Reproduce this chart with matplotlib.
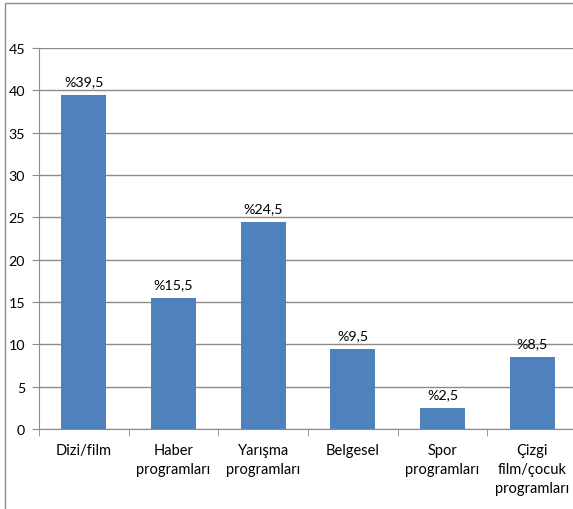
import matplotlib
matplotlib.use("Agg")
import matplotlib.pyplot as plt
from matplotlib.patches import Rectangle
import numpy as np

categories = ["Dizi/film", "Haber\nprogramları", "Yarışma\nprogramları", "Belgesel",
              "Spor\nprogramları", "Çizgi\nfilm/çocuk\nprogramları"]
values = [39.5, 15.5, 24.5, 9.5, 2.5, 8.5]
labels = ["%39,5", "%15,5", "%24,5", "%9,5", "%2,5", "%8,5"]
yticks = [0, 5, 10, 15, 20, 25, 30, 35, 40, 45]

plt.rcParams['font.family'] = ['Lato', 'DejaVu Sans']

W, H = 573, 510
fig = plt.figure(figsize=(W/100, H/100), dpi=100)
fig.patch.set_facecolor('white')
# outer chart border (left and top visible)
fig.add_artist(Rectangle((5/W, -0.1), 1.2, (H-4)/H + 0.1, transform=fig.transFigure,
                         fill=False, edgecolor='#8c8c8c', linewidth=1.0))

ax = fig.add_axes([39/W, 1-430/H, 538/W, (430-49)/H])
x = np.arange(len(categories))
ax.bar(x, values, width=0.5, color='#4F81BD', zorder=3)
for xi, v, lab in zip(x, values, labels):
    ax.text(xi, v + 0.9, lab, ha='center', va='bottom', fontsize=10.3, color='black')

ax.set_xlim(-0.5, len(categories) - 0.5)
ax.set_ylim(0, 45)
ax.set_yticks(yticks)
ax.set_yticklabels([str(t) for t in yticks], fontsize=10.3)
ax.yaxis.grid(True, color='#8c8c8c', linewidth=1.0, zorder=0)
ax.set_axisbelow(True)

ax.set_xticks(x)
ax.set_xticklabels(categories, fontsize=10.5, linespacing=1.45)
ax.tick_params(axis='x', length=0, pad=10)
ax.set_xticks(np.arange(len(categories) + 1) - 0.5, minor=True)
ax.tick_params(axis='x', which='minor', length=5, color='#8c8c8c', direction='out')
ax.tick_params(axis='y', length=5, color='#8c8c8c', direction='out', pad=5)

for s in ['top', 'right']:
    ax.spines[s].set_visible(False)
ax.spines['left'].set_color('#8c8c8c')
ax.spines['bottom'].set_color('#8c8c8c')

fig.savefig('out.png', dpi=100)
